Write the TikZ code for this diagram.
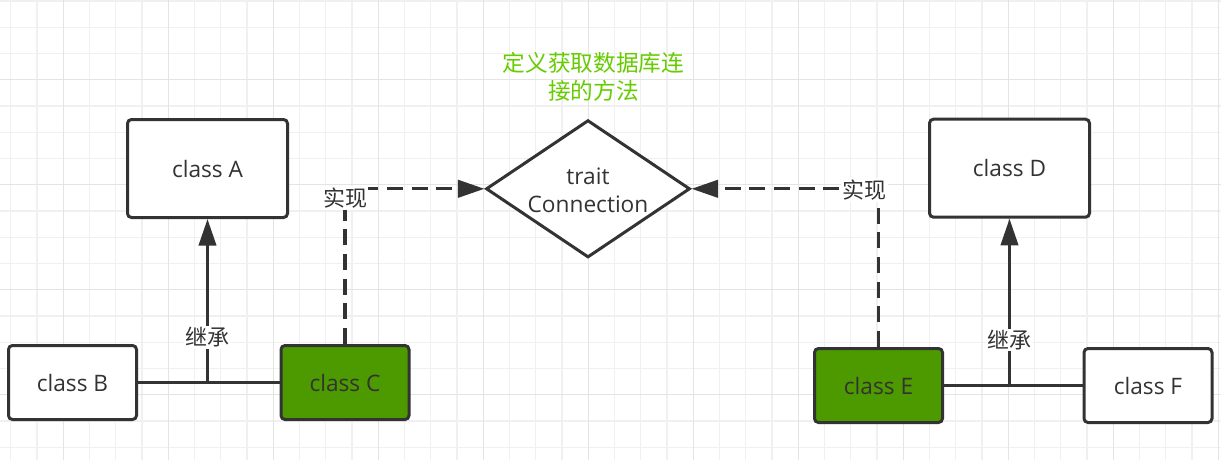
\documentclass[tikz,border=0pt]{standalone}
\usepackage{fontspec}
\setmainfont{Open Sans}
\newfontfamily\cjk{Noto Sans CJK SC}
\usetikzlibrary{shapes.geometric,arrows.meta}
\definecolor{ink}{HTML}{333333}
\definecolor{gfill}{HTML}{4D9900}
\definecolor{gtext}{HTML}{66CC00}
\definecolor{gridminor}{HTML}{F0F0F0}
\definecolor{gridmajor}{HTML}{E4E4E4}
\begin{document}
\begin{tikzpicture}[x=0.75pt,y=-0.75pt,
  txt/.style={text=ink, font=\fontsize{17pt}{20.7pt}\selectfont},
  box/.style={txt, draw=ink, line width=2.25pt, rounded corners=3pt, fill=white, inner sep=0pt},
  bigbox/.style={box, minimum width=120pt, minimum height=73.5pt},
  smallbox/.style={box, minimum width=96pt, minimum height=55.5pt},
  greenbox/.style={smallbox, fill=gfill},
  traitshape/.style={diamond, draw=ink, line width=2.25pt, fill=white, inner sep=0pt,
     minimum width=153pt, minimum height=103pt},
  tip/.style={-{Triangle[length=20pt,width=13pt]}},
  inherit/.style={draw=ink, line width=2.25pt, tip},
  plain/.style={draw=ink, line width=2pt},
  impl/.style={draw=ink, line width=2.5pt, dash pattern=on 12pt off 6.5pt, tip},
  lbl/.style={fill=white, text=ink, font=\cjk\fontsize{16.5pt}{20pt}\selectfont, inner sep=1pt},
  note/.style={text=gtext, font=\cjk\fontsize{17pt}{21.5pt}\selectfont, align=center}
]
\useasboundingbox (0,0) rectangle (1221,460);
\fill[white] (0,0) rectangle (1221,460);
% grid
\foreach \i in {0,...,46} {\draw[gridminor, line width=1pt] ({10.8+26.25*\i},0) -- ({10.8+26.25*\i},460);}
\foreach \j in {0,...,17} {\draw[gridminor, line width=1pt] (0,{1.05+26.25*\j}) -- (1221,{1.05+26.25*\j});}
\foreach \i in {0,...,11} {\draw[gridmajor, line width=1pt] ({63.3+105*\i},0) -- ({63.3+105*\i},460);}
\foreach \j in {0,...,3} {\draw[gridmajor, line width=1pt] (0,{79.3+105*\j}) -- (1221,{79.3+105*\j});}

% nodes
\node[bigbox] (A) at (207.5,168.5) {class A};
\node[smallbox] (B) at (72.5,382.5) {class B};
\node[greenbox] (C) at (345,382.5) {class C};
\node[bigbox] (D) at (1009.5,168.2) {class D};
\node[greenbox] (E) at (878.5,385.5) {class E};
\node[smallbox] (F) at (1148,385.5) {class F};
\node[traitshape] (conn) at (588,188.8) {};
\node[txt, align=center, inner sep=0pt] (conntext) at (588,190) {trait\\Connection};
\node[note] (title) at (593.5,76.7) {定义获取数据库连\\接的方法};

\coordinate (j1) at (207.5,382.5);
\coordinate (j2) at (1009.5,385.5);

% inheritance
\draw[plain] (B.east) -- (C.west);
\draw[inherit] (j1) -- (A.south);
\node[lbl] (inhL) at (207.5,337.5) {继承};
\draw[plain] (E.east) -- (F.west);
\draw[inherit] (j2) -- (D.south);
\node[lbl] (inhR) at (1009.5,340) {继承};

% implementation
\draw[impl] (C.north) |- (conn.west);
\node[lbl] (implL) at (345,198) {实现};
\draw[impl] (E.north) |- (conn.east);
\node[lbl] (implR) at (864.5,190) {实现};
\end{tikzpicture}
\end{document}
